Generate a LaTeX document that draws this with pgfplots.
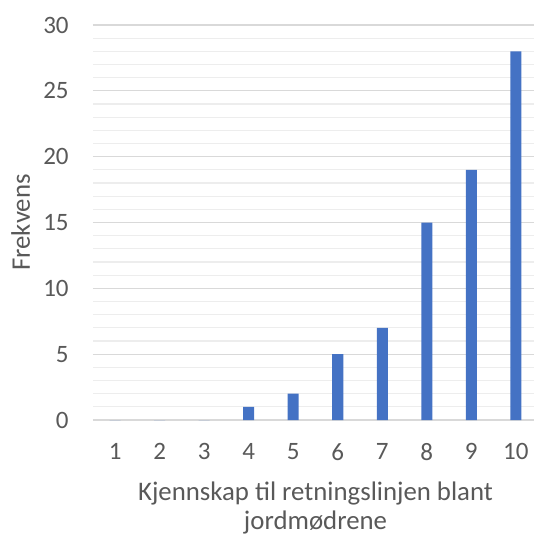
\documentclass[border=0pt]{standalone}
\usepackage{fontspec}
\setmainfont{Carlito}
\usepackage{pgfplots}
\pgfplotsset{compat=1.18}
\definecolor{barblue}{HTML}{4472C4}
\definecolor{txtgray}{HTML}{595959}
\definecolor{majgrid}{HTML}{D9D9D9}
\definecolor{mingrid}{HTML}{EDEDED}
\begin{document}
\begin{tikzpicture}
\useasboundingbox (-46.5pt,-58pt) rectangle (220.5pt,210pt);
\begin{axis}[
  anchor=south west, at={(0,0)},
  scale only axis, width=222.5pt, height=197.5pt,
  xmin=0.5, xmax=10.5, ymin=0, ymax=30,
  ytick={0,5,...,30}, minor ytick={1,...,29},
  xtick={1,...,10},
  axis line style={draw=none},
  major tick length=0pt, minor tick length=0pt,
  ymajorgrids, yminorgrids,
  major grid style={majgrid, line width=0.6pt},
  minor grid style={mingrid, line width=0.6pt},
  /pgf/number format/assume math mode=true,
  tick label style={font=\fontsize{12.5}{14}\selectfont, text=txtgray},
  yticklabel style={inner sep=0pt, anchor=east, xshift=-12pt},
  xticklabel style={inner sep=0pt, anchor=north, yshift=-11.5pt},
  label style={font=\fontsize{13.4}{14.6}\selectfont, text=txtgray},
  xlabel={Kjennskap til retningslinjen blant\\jordmødrene},
  xlabel style={align=center, at={(axis description cs:0.5,0)}, anchor=north, inner sep=0pt, yshift=-30.5pt},
  ylabel={Frekvens},
  ylabel style={at={(axis description cs:-0.1625,0.5)}, anchor=center, inner sep=0pt},
  clip=false,
]
\addplot[ybar, bar width=5.5pt, fill=barblue, draw=none] coordinates {
  (1,0) (2,0) (3,0) (4,1) (5,2) (6,5) (7,7) (8,15) (9,19) (10,28)
};
\end{axis}
\end{tikzpicture}
\end{document}
